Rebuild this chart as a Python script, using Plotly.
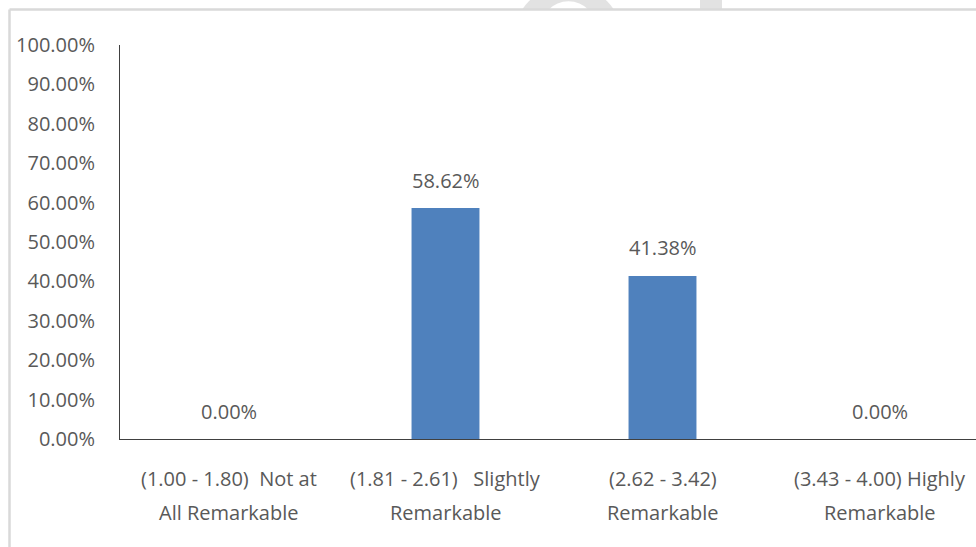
import plotly.graph_objects as go

# Category labels (two lines each) and the share of respondents per band
line1 = ["(1.00 - 1.80)\u00a0 Not at", "(1.81 - 2.61)\u00a0\u00a0 Slightly",
         "(2.62 - 3.42)", "(3.43 - 4.00) Highly"]
line2 = ["All Remarkable", "Remarkable", "Remarkable", "Remarkable"]
categories = ["Not at All Remarkable", "Slightly Remarkable", "Remarkable", "Highly Remarkable"]
shares = [0.0, 0.5862, 0.4138, 0.0]
y_ticks = [i / 10 for i in range(11)]

W, H = 976, 547
ML, MR, MT, MB = 120, 0, 45, 108
PW, PH = W - ML - MR, H - MT - MB

FONT = "Open Sans, Lato, sans-serif"
GREY = "#595959"
BAR = "#4f81bd"


def px(x):
    return (x - ML) / PW


def py(y):
    return (H - MB - y) / PH


fig = go.Figure(go.Bar(
    x=categories, y=shares, marker=dict(color=BAR, line=dict(width=0)),
    hoverinfo="skip",
))

# value labels above each bar
for c, v in zip(categories, shares):
    fig.add_annotation(x=c, y=v, xref="x", yref="y", text=f"{v * 100:.2f}%",
                       showarrow=False, yanchor="middle", yshift=28,
                       font=dict(family=FONT, size=20, color=GREY))

# two-line category labels under the axis
for c, a, b in zip(categories, line1, line2):
    fig.add_annotation(x=c, y=0, xref="x", yref="paper", text=a, showarrow=False,
                       yanchor="middle", yshift=-39, font=dict(family=FONT, size=20, color=GREY))
    fig.add_annotation(x=c, y=0, xref="x", yref="paper", text=b, showarrow=False,
                       yanchor="middle", yshift=-73, font=dict(family=FONT, size=20, color=GREY))

shapes = [
    # faint letterforms peeking above the chart frame
    dict(type="circle", xref="paper", yref="paper", layer="below",
         x0=px(513), x1=px(623), y0=py(95), y1=py(-15), fillcolor="#e2e2e2", line=dict(width=0)),
    dict(type="circle", xref="paper", yref="paper", layer="below",
         x0=px(540), x1=px(597), y0=py(58.7), y1=py(1.3), fillcolor="white", line=dict(width=0)),
    dict(type="rect", xref="paper", yref="paper", layer="below",
         x0=px(700), x1=px(722), y0=py(9), y1=py(-2), fillcolor="#e2e2e2", line=dict(width=0)),
    # chart area background
    dict(type="rect", xref="paper", yref="paper", layer="below",
         x0=px(9), x1=px(980), y0=py(550), y1=py(9.5), fillcolor="white", line=dict(width=0)),
    # chart frame
    dict(type="line", xref="paper", yref="paper", layer="below",
         x0=px(9.5), x1=px(980), y0=py(9.5), y1=py(9.5), line=dict(color="#d9d9d9", width=2.5)),
    dict(type="line", xref="paper", yref="paper", layer="below",
         x0=px(9.5), x1=px(9.5), y0=py(9.5), y1=py(550), line=dict(color="#d9d9d9", width=2.5)),
]

fig.update_layout(
    width=W, height=H,
    margin=dict(l=ML, r=MR, t=MT, b=MB, autoexpand=False),
    paper_bgcolor="white", plot_bgcolor="rgba(0,0,0,0)",
    bargap=0.687, showlegend=False,
    font=dict(family=FONT, size=20, color=GREY),
    shapes=shapes,
)
fig.update_xaxes(type="category", categoryorder="array", categoryarray=categories,
                 range=[-0.5, -0.5 + PW / 217], showticklabels=False, ticks="",
                 showgrid=False, zeroline=False, showline=True, linecolor="#404040",
                 linewidth=1, automargin=False)
fig.update_yaxes(range=[0, 1], tickvals=y_ticks, tickformat=".2%", ticks="",
                 ticklabelstandoff=20, showgrid=False, zeroline=False,
                 showline=True, linecolor="#404040", linewidth=1, automargin=False,
                 tickfont=dict(family=FONT, size=20, color=GREY))

fig.write_html("out.html")
